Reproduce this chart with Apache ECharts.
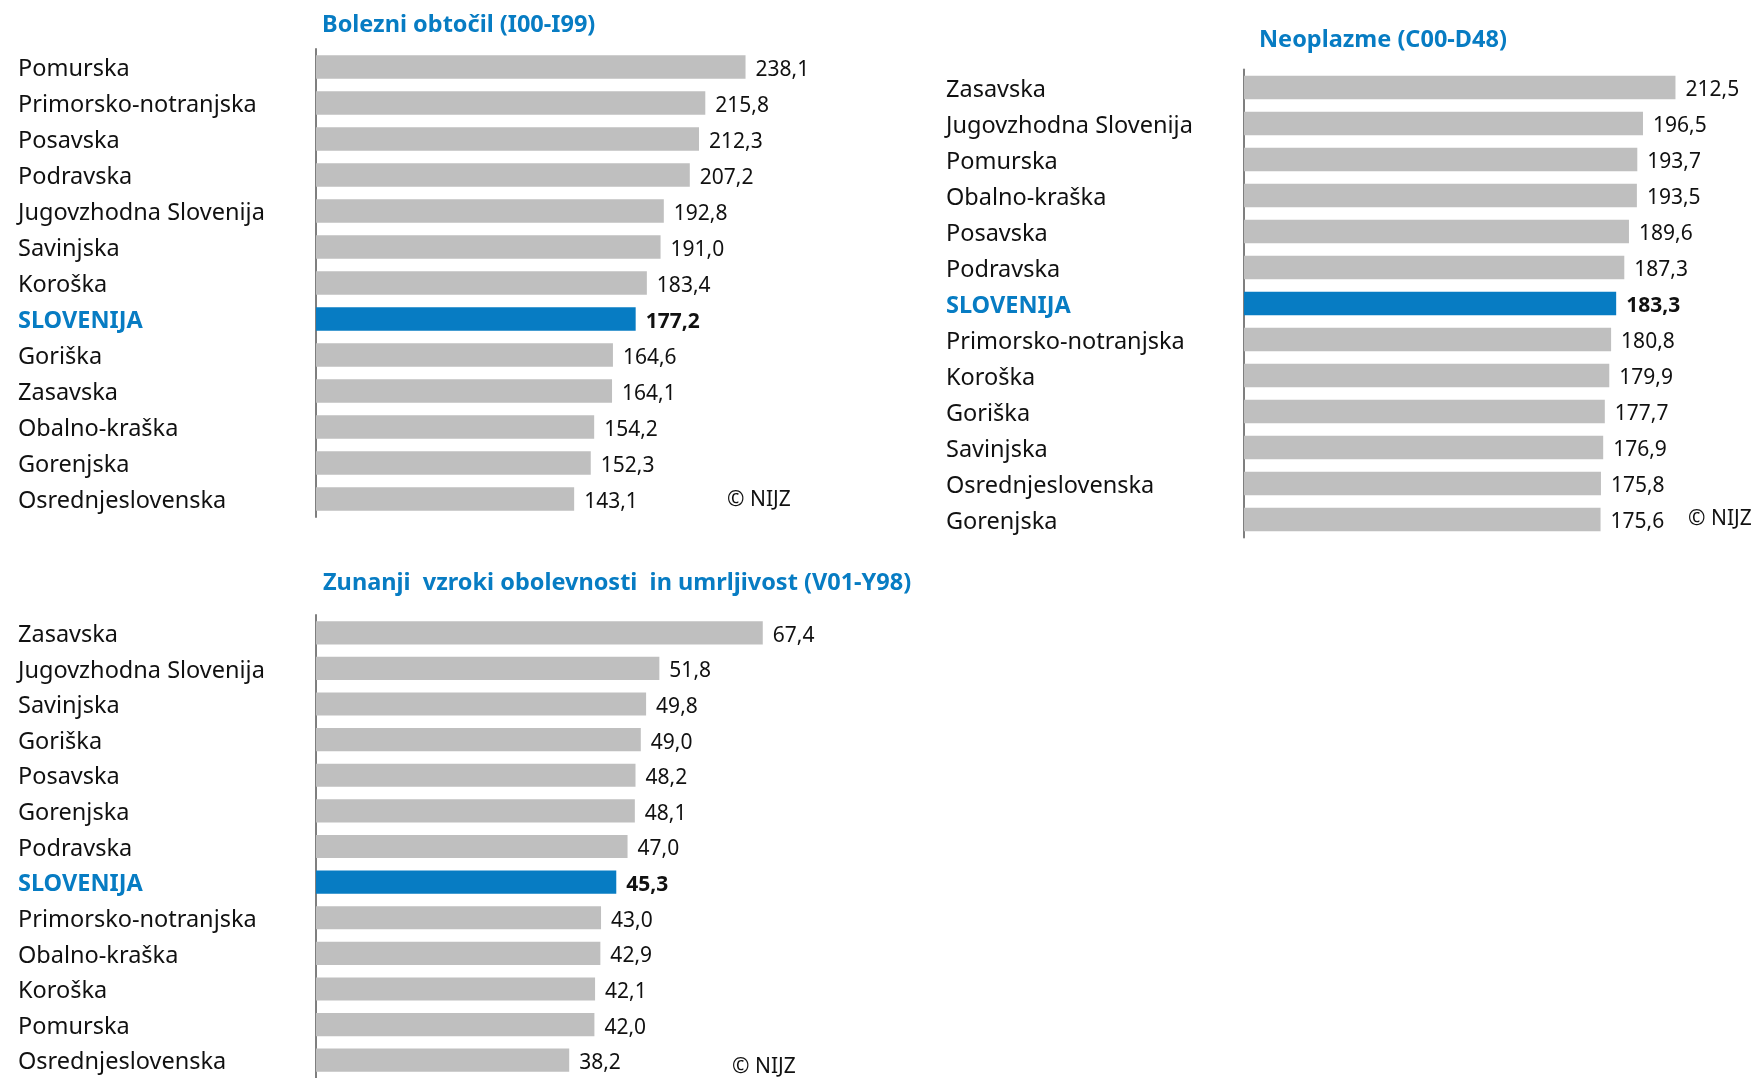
<!DOCTYPE html>
<html>
<head>
<meta charset="utf-8">
<script src="https://cdn.jsdelivr.net/npm/echarts@6/dist/echarts.min.js"></script>
<style>
  html, body { margin: 0; padding: 0; background: #fff; }
  #chart { width: 1759px; height: 1078px; }
</style>
</head>
<body>
<div id="chart"></div>
<script>
// data (per 100 000)
var circCats = ['Pomurska', 'Primorsko-notranjska', 'Posavska', 'Podravska', 'Jugovzhodna Slovenija', 'Savinjska',
    'Koroška', 'SLOVENIJA', 'Goriška', 'Zasavska', 'Obalno-kraška', 'Gorenjska', 'Osrednjeslovenska'];
var circVals = [238.1, 215.8, 212.3, 207.2, 192.8, 191.0, 183.4, 177.2, 164.6, 164.1, 154.2, 152.3, 143.1];

var neoCats = ['Zasavska', 'Jugovzhodna Slovenija', 'Pomurska', 'Obalno-kraška', 'Posavska', 'Podravska',
    'SLOVENIJA', 'Primorsko-notranjska', 'Koroška', 'Goriška', 'Savinjska', 'Osrednjeslovenska', 'Gorenjska'];
var neoVals = [212.5, 196.5, 193.7, 193.5, 189.6, 187.3, 183.3, 180.8, 179.9, 177.7, 176.9, 175.8, 175.6];

var extCats = ['Zasavska', 'Jugovzhodna Slovenija', 'Savinjska', 'Goriška', 'Posavska', 'Gorenjska', 'Podravska',
    'SLOVENIJA', 'Primorsko-notranjska', 'Obalno-kraška', 'Koroška', 'Pomurska', 'Osrednjeslovenska'];
var extVals = [67.4, 51.8, 49.8, 49.0, 48.2, 48.1, 47.0, 45.3, 43.0, 42.9, 42.1, 42.0, 38.2];

var titles = ['Bolezni obtočil (I00-I99)', 'Neoplazme (C00-D48)', 'Zunanji  vzroki obolevnosti  in umrljivost (V01-Y98)'];

var FONT = '"Noto Sans"';
var BLUE = '#077cc3', GREY = '#bfbfbf';

function fmt(v) { return v.toFixed(1).replace('.', ','); }

function barData(cats, vals) {
    return vals.map(function (v, i) {
        if (cats[i] !== 'SLOVENIJA') return v;
        return { value: v, itemStyle: { color: BLUE }, label: { fontWeight: 'bold' } };
    });
}

var panels = [
    { cats: circCats, vals: circVals, left: 316, top: 49, width: 451, max: 250 },
    { cats: neoCats, vals: neoVals, left: 1244, top: 69.5, width: 467, max: 230 },
    { cats: extCats, vals: extVals, left: 316, top: 615, width: 464, max: 70 }
];

var option = {
    animation: false,
    textStyle: { fontFamily: FONT },
    title: [
        { text: titles[0], left: 322, top: 13 },
        { text: titles[1], left: 1259, top: 28 },
        { text: titles[2], left: 323, top: 571 }
    ].map(function (t) {
        t.padding = 0;
        t.textStyle = { color: BLUE, fontFamily: FONT, fontWeight: 'bold', fontSize: 23.5 };
        return t;
    }),
    grid: [], xAxis: [], yAxis: [], series: [],
    graphic: [
        { type: 'text', left: 727, top: 490, style: { text: '© NIJZ', fontFamily: FONT, fontSize: 21, fill: '#111' } },
        { type: 'text', left: 1688, top: 509, style: { text: '© NIJZ', fontFamily: FONT, fontSize: 21, fill: '#111' } },
        { type: 'text', left: 732, top: 1057, style: { text: '© NIJZ', fontFamily: FONT, fontSize: 21, fill: '#111' } }
    ]
};

panels.forEach(function (p, k) {
    option.grid.push({ left: p.left, top: p.top, width: p.width, height: 468, containLabel: false });
    option.xAxis.push({ type: 'value', gridIndex: k, min: 0, max: p.max, show: false, splitLine: { show: false } });
    option.yAxis.push({
        type: 'category', gridIndex: k, data: p.cats, inverse: true,
        axisLine: { show: true, lineStyle: { color: '#7f7f7f', width: 2 } },
        axisTick: { show: false },
        axisLabel: {
            align: 'left', margin: 298, fontSize: 23.5, color: '#111', fontFamily: FONT,
            padding: [5, 0, 0, 0],
            formatter: function (v) { return v === 'SLOVENIJA' ? '{s|' + v + '}' : v; },
            rich: { s: { color: BLUE, fontWeight: 'bold', fontSize: 23.5, fontFamily: FONT } }
        }
    });
    option.series.push({
        type: 'bar', xAxisIndex: k, yAxisIndex: k,
        data: barData(p.cats, p.vals),
        barCategoryGap: '35%',
        itemStyle: { color: GREY },
        label: {
            show: true, position: 'right', distance: 10, fontSize: 21, color: '#111', fontFamily: FONT,
            offset: [0, 3],
            formatter: function (d) { return fmt(d.value); }
        }
    });
});

var chart = echarts.init(document.getElementById('chart'));
chart.setOption(option);
</script>
</body>
</html>
